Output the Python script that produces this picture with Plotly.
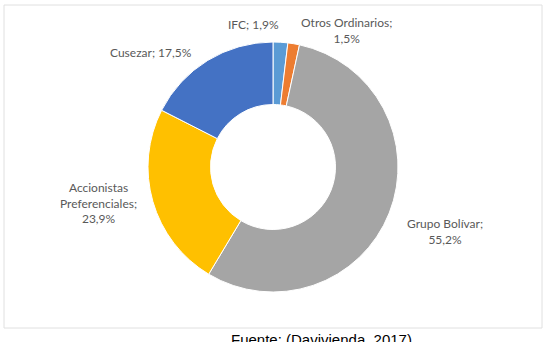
import plotly.graph_objects as go

labels = ["IFC", "Otros Ordinarios", "Grupo Bolívar", "Accionistas Preferenciales", "Cusezar"]
values = [1.9, 1.5, 55.2, 23.9, 17.5]
colors = ["#5B9BD5", "#ED7D31", "#A5A5A5", "#FFC000", "#4472C4"]
label_texts = ["IFC; 1,9%", "Otros Ordinarios;<br>1,5%", "Grupo Bolívar;<br>55,2%",
               "Accionistas<br>Preferenciales;<br>23,9%", "Cusezar; 17,5%"]
source_text = "Fuente: (Davivienda, 2017)"

W, H = 552, 342
cx, cy, r = 273, 167, 125

fig = go.Figure(go.Pie(
    labels=labels, values=values, hole=0.5, sort=False, direction="clockwise",
    marker=dict(colors=colors, line=dict(color="white", width=1)),
    textinfo="none", hoverinfo="label+percent", showlegend=False,
    domain=dict(x=[(cx - r) / W, (cx + r) / W], y=[1 - (cy + r) / H, 1 - (cy - r) / H]),
))

# label placements (pixel positions of label centers)
label_pos = [(253, 25), (346, 30), (445, 231), (98, 203), (151, 53)]
anns = []
for t, (px, py) in zip(label_texts, label_pos):
    anns.append(dict(text=t, x=px / W, y=1 - py / H, xref="paper", yref="paper",
                     showarrow=False, xanchor="center", yanchor="middle", align="center",
                     font=dict(family="Lato, Open Sans, sans-serif", size=12, color="#595959")))
anns.append(dict(text=source_text, x=321 / W, y=1 - 329 / H, xref="paper", yref="paper",
                 showarrow=False, xanchor="center", yanchor="top",
                 font=dict(family="Liberation Sans, Arial, sans-serif", size=15, color="#000000")))

fig.update_layout(
    width=W, height=H, margin=dict(l=0, r=0, t=0, b=0),
    paper_bgcolor="white", plot_bgcolor="white",
    separators=",.",
    annotations=anns,
    shapes=[dict(type="rect", xref="paper", yref="paper",
                 x0=4 / W, x1=542 / W, y0=1 - 328 / H, y1=1 - 5 / H,
                 line=dict(color="#E0E0E0", width=1))],
)
fig.write_html("out.html")
